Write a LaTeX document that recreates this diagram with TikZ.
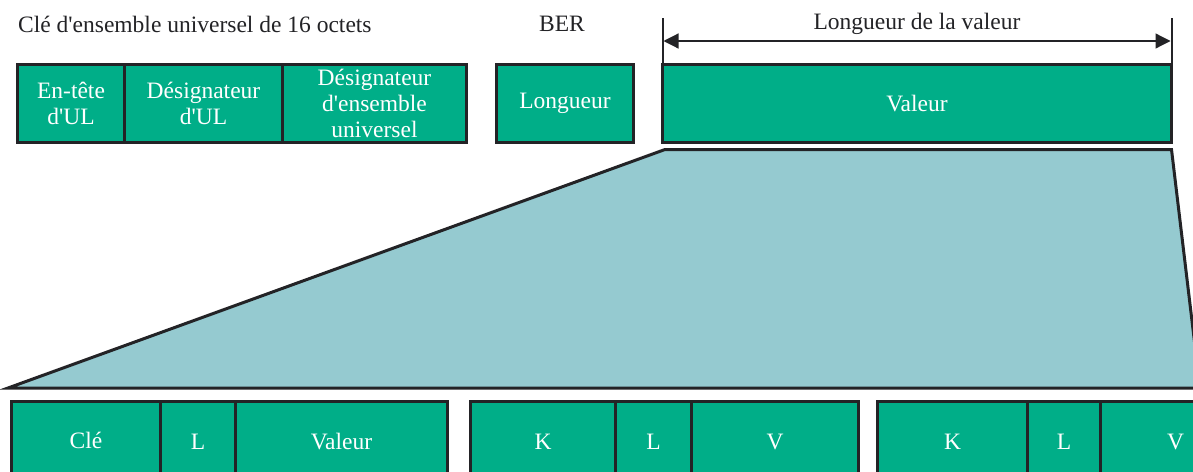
\documentclass[tikz,border=0pt]{standalone}
\usepackage{fontspec}
\setmainfont{Liberation Serif}[Ligatures=TeXOff]
\usetikzlibrary{arrows.meta}
\definecolor{fgreen}{RGB}{0,174,136}
\definecolor{fteal}{RGB}{149,202,208}
\definecolor{fdark}{RGB}{35,35,38}
\tikzset{
  cell/.style={draw=fdark, fill=fgreen, line width=3pt, inner sep=0pt, outer sep=0pt,
    anchor=north west, text=white, align=center, font=\fontsize{23.5}{26}\selectfont},
  lab/.style={text=fdark, inner sep=0pt, font=\fontsize{23.5}{26}\selectfont},
  dim/.style={draw=fdark, line width=1.2pt, {Triangle[length=15pt,width=15pt]}-{Triangle[length=15pt,width=15pt]}},
  tick/.style={draw=fdark, line width=2pt}
}
\begin{document}
\begin{tikzpicture}[x=1pt,y=-1pt]
\useasboundingbox (0,0) rectangle (1193,471);
\clip (0,0) rectangle (1193,471);
% top labels
\node[lab, anchor=west] (t1) at (18,24) {Clé d'ensemble universel de 16 octets};
\node[lab] (t2) at (562,24) {BER};
\node[lab] (t3) at (917,24) {Longueur de la valeur};
% top row
\node[cell, minimum width=107pt, minimum height=78pt] (a1) at (17.5,64.5) {En-tête\\d'UL};
\node[cell, minimum width=158pt, minimum height=78pt] (a2) at (124.5,64.5) {Désignateur\\d'UL};
\node[cell, minimum width=184pt, minimum height=78pt] (a3) at (282.5,64.5) {Désignateur\\d'ensemble\\universel};
\node[cell, minimum width=137pt, minimum height=78pt] (b1) at (496.5,64.5) {Longueur};
\node[cell, minimum width=509pt, minimum height=78pt] (c1) at (662.5,64.5) {Valeur};
% dimension
\coordinate (dL) at (662.5,18);
\coordinate (dR) at (1171.5,18);
\draw[tick] (dL) -- (c1.north west);
\draw[tick] (dR) -- (c1.north east);
\draw[dim] (663.5,41) -- (1170.5,41);
% trapezoid
\draw[fill=fteal, draw=fdark, line width=3pt, line join=miter]
  (665,149.5) -- (1171.5,149.5) -- (1200,388) -- (8,388) -- cycle;
% bottom row
\node[cell, minimum width=149pt, minimum height=80pt] (k1) at (11.5,401.5) {\raisebox{3pt}{Clé}};
\node[cell, minimum width=75pt, minimum height=80pt] (l1) at (160.5,401.5) {L};
\node[cell, minimum width=212pt, minimum height=80pt] (v1) at (235.5,401.5) {Valeur};
\node[cell, minimum width=145pt, minimum height=80pt] (k2) at (470.5,401.5) {K};
\node[cell, minimum width=76pt, minimum height=80pt] (l2) at (615.5,401.5) {L};
\node[cell, minimum width=167pt, minimum height=80pt] (v2) at (691.5,401.5) {V};
\node[cell, minimum width=150pt, minimum height=80pt] (k3) at (877.5,401.5) {K};
\node[cell, minimum width=73pt, minimum height=80pt] (l3) at (1027.5,401.5) {L};
\node[cell, minimum width=150pt, minimum height=80pt] (v3) at (1100.5,401.5) {V};
\end{tikzpicture}
\end{document}
